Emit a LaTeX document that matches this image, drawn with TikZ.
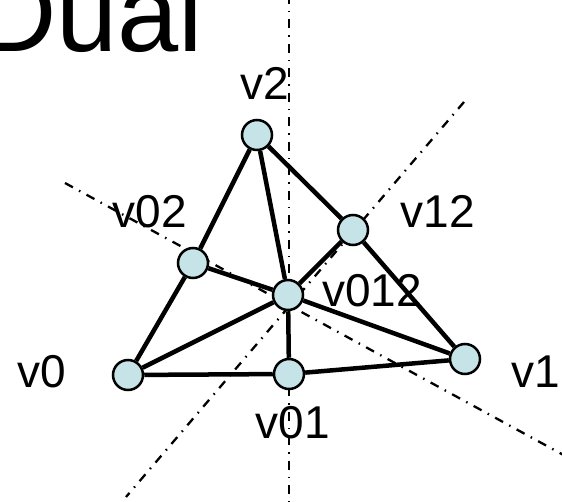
\documentclass[tikz,border=0pt]{standalone}
\usepackage{fontspec}
\setmainfont{Liberation Sans}
\definecolor{vfill}{RGB}{198,228,232}
\tikzset{
  vert/.style={circle,draw=black,line width=2.5pt,fill=vfill,minimum size=30pt,inner sep=0pt},
  edge/.style={line width=4.5pt},
  axis/.style={line width=2.3pt,dash pattern=on 9pt off 7pt on 1.5pt off 7pt},
  lab/.style={anchor=base,inner sep=0pt,font=\fontsize{46}{46}\selectfont}
}
\begin{document}
\begin{tikzpicture}[x=1pt,y=-1pt]
\useasboundingbox (0,0) rectangle (562,502);
\clip (0,0) rectangle (562,502);
\node[anchor=base west,inner sep=0pt,font=\fontsize{110}{110}\selectfont] (title) at (-23,52) {Dual};
\node[lab] (l2) at (265,100) {v2};
\node[lab] (l02) at (150,228) {v02};
\node[lab] (l12) at (438,228) {v12};
\node[lab] (l012) at (372,307) {v012};
\node[lab] (l0) at (42,388) {v0};
\node[lab] (l1) at (536,388) {v1};
\node[lab] (l01) at (293,438) {v01};
\coordinate (a1) at (289,-5);
\coordinate (a2) at (289,510);
\coordinate (b1) at (464,102);
\coordinate (b2) at (126,497);
\coordinate (c1) at (65,183);
\coordinate (c2) at (580,464);
\draw[axis] (a1) -- (a2);
\draw[axis] (b1) -- (b2);
\draw[axis] (c1) -- (c2);
\node[vert] (v0) at (128,375) {};
\node[vert] (v1) at (465,359) {};
\node[vert] (v2) at (257,135) {};
\node[vert] (v01) at (289,374) {};
\node[vert] (v02) at (193,263) {};
\node[vert] (v12) at (353,230) {};
\node[vert] (v012) at (288,295) {};
\foreach \a/\b in {v0/v02,v02/v2,v2/v12,v12/v1,v0/v01,v01/v1,v2/v012,v02/v012,v12/v012,v0/v012,v1/v012,v01/v012}
  \draw[edge] (\a) -- (\b);
\end{tikzpicture}
\end{document}
